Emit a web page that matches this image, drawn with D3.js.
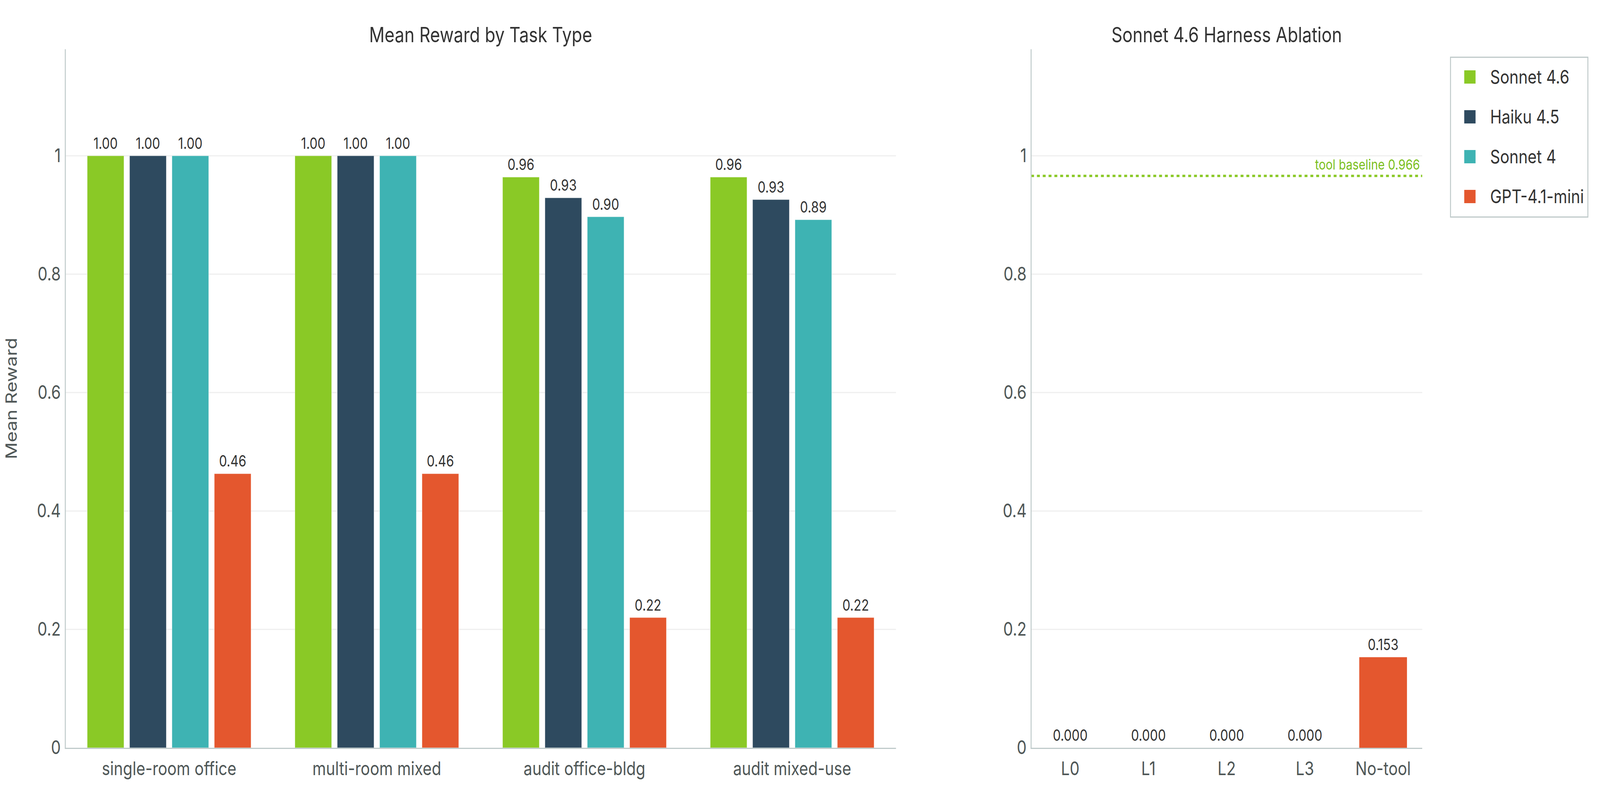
<!DOCTYPE html>
<html>
<head>
<meta charset="utf-8">
<script src="https://cdn.jsdelivr.net/npm/d3@7"></script>
<style>
  html, body { margin: 0; padding: 0; background: #fff; overflow: hidden; }
  svg { display: block; font-family: Inter, "Noto Sans", sans-serif; width: 100vw; height: 100vh; }
</style>
</head>
<body>
<svg id="chart" viewBox="0 0 4950 2040" preserveAspectRatio="none"></svg>
<script>
// ---- data ----
const taskTypes = ["single-room office", "multi-room mixed", "audit office-bldg", "audit mixed-use"];
const models = ["Sonnet 4.6", "Haiku 4.5", "Sonnet 4", "GPT-4.1-mini"];
const sonnet46 = [1.0, 1.0, 0.964, 0.964];
const haiku45 = [1.0, 1.0, 0.929, 0.926];
const sonnet4 = [1.0, 1.0, 0.897, 0.892];
const gpt41mini = [0.463, 0.463, 0.22, 0.22];
const ablationLevels = ["L0", "L1", "L2", "L3", "No-tool"];
const ablationValues = [0.0, 0.0, 0.0, 0.0, 0.153];
const toolBaseline = 0.966;
const yTicks = [0, 0.2, 0.4, 0.6, 0.8, 1];
const titles = ["Mean Reward by Task Type", "Sonnet 4.6 Harness Ablation"];
const yTitle = "Mean Reward";

// ---- style ----
const colors = ["#8ac926", "#2e4a5f", "#3eb3b3", "#e4572e"];
const ablationColors = ["#8ac926", "#8ac926", "#8ac926", "#8ac926", "#e4572e"];
const tickColor = "#4f5757";
const textColor = "#333333";
const gridColor = "#efefef";
const axisColor = "#bfcaca";

const svg = d3.select("#chart");
const seriesValues = [sonnet46, haiku45, sonnet4, gpt41mini];

const plotTop = 126, plotBottom = 1914;
const y = d3.scaleLinear().domain([0, 1.18]).range([plotBottom, plotTop]);

function drawPanel(g, x0, x1, title) {
  g.append("g").selectAll("line").data(yTicks.filter(d => d > 0)).join("line")
    .attr("x1", x0).attr("x2", x1)
    .attr("y1", d => y(d)).attr("y2", d => y(d))
    .attr("stroke", gridColor).attr("stroke-width", 3);
  g.append("text").attr("x", (x0 + x1) / 2).attr("y", 108)
    .attr("text-anchor", "middle").attr("font-size", 53).attr("fill", textColor)
    .text(title);
}

function drawAxes(g, x0, x1, xScale) {
  const ya = d3.axisLeft(y).tickValues(yTicks).tickFormat(d3.format("~g")).tickSize(0).tickPadding(14);
  const yg = g.append("g").attr("transform", `translate(${x0},0)`).call(ya);
  yg.select(".domain").remove();
  yg.selectAll("text").attr("font-size", 48).attr("fill", tickColor).attr("font-family", "Inter, sans-serif");
  g.append("line").attr("x1", x0).attr("x2", x0).attr("y1", plotTop).attr("y2", plotBottom + 1.5)
    .attr("stroke", axisColor).attr("stroke-width", 3);
  const xa = d3.axisBottom(xScale).tickSize(0).tickPadding(36);
  const xg = g.append("g").attr("transform", `translate(0,${plotBottom})`).call(xa);
  xg.select(".domain").remove();
  xg.selectAll("text").attr("font-size", 48).attr("fill", tickColor).attr("font-family", "Inter, sans-serif");
  g.append("line").attr("x1", x0 - 1.5).attr("x2", x1).attr("y1", plotBottom + 1.5).attr("y2", plotBottom + 1.5)
    .attr("stroke", axisColor).attr("stroke-width", 3);
}

// ---- left panel ----
const LX0 = 202, LX1 = 2772;
const gL = svg.append("g");
drawPanel(gL, LX0, LX1, titles[0]);
const xCat = d3.scaleBand().domain(taskTypes).range([LX0, LX1]).paddingInner(0).paddingOuter(0);
const groupW = xCat.bandwidth() * 0.816;
const xSer = d3.scaleBand().domain(models).range([0, groupW]).paddingInner(0.134).paddingOuter(0.067);

const barData = [];
taskTypes.forEach((t, i) => models.forEach((m, j) => barData.push({ t, m, j, v: seriesValues[j][i] })));

const gBars = gL.append("g");
gBars.selectAll("rect").data(barData).join("rect")
  .attr("x", d => xCat(d.t) + (xCat.bandwidth() - groupW) / 2 + xSer(d.m))
  .attr("width", xSer.bandwidth())
  .attr("y", d => y(d.v))
  .attr("height", d => y(0) - y(d.v))
  .attr("fill", d => colors[d.j])
  .attr("stroke", "rgba(255,255,255,0.45)").attr("stroke-width", 1.5);
gBars.selectAll("text").data(barData).join("text")
  .attr("x", d => xCat(d.t) + (xCat.bandwidth() - groupW) / 2 + xSer(d.m) + xSer.bandwidth() / 2)
  .attr("y", d => y(d.v) - 18)
  .attr("text-anchor", "middle").attr("font-size", 39).attr("fill", textColor)
  .text(d => d.v.toFixed(2));
drawAxes(gL, LX0, LX1, xCat);

svg.append("text").attr("transform", `translate(52,${(plotTop + plotBottom) / 2}) rotate(-90)`)
  .attr("text-anchor", "middle").attr("font-size", 48).attr("fill", tickColor).text(yTitle);

// ---- right panel ----
const RX0 = 3190, RX1 = 4400;
const gR = svg.append("g");
drawPanel(gR, RX0, RX1, titles[1]);
const xAbl = d3.scaleBand().domain(ablationLevels).range([RX0, RX1]).paddingInner(0.39).paddingOuter(0.195);
const ablData = ablationLevels.map((l, i) => ({ l, i, v: ablationValues[i] }));
gR.append("g").selectAll("rect").data(ablData).join("rect")
  .attr("x", d => xAbl(d.l)).attr("width", xAbl.bandwidth())
  .attr("y", d => y(d.v)).attr("height", d => y(0) - y(d.v))
  .attr("fill", d => ablationColors[d.i]);
gR.append("g").selectAll("text").data(ablData).join("text")
  .attr("x", d => xAbl(d.l) + xAbl.bandwidth() / 2)
  .attr("y", d => y(d.v) - 18)
  .attr("text-anchor", "middle").attr("font-size", 39).attr("fill", textColor)
  .text(d => d.v.toFixed(3));
gR.append("line").attr("x1", RX0).attr("x2", RX1)
  .attr("y1", y(toolBaseline)).attr("y2", y(toolBaseline))
  .attr("stroke", colors[0]).attr("stroke-width", 6).attr("stroke-dasharray", "9,9");
gR.append("text").attr("x", RX1 - 7).attr("y", y(toolBaseline) - 16)
  .attr("text-anchor", "end").attr("font-size", 36).attr("fill", "#7cc01f")
  .text("tool baseline " + toolBaseline.toFixed(3));
drawAxes(gR, RX0, RX1, xAbl);

// ---- legend ----
const lg = svg.append("g");
lg.append("rect").attr("x", 4487.5).attr("y", 146.5).attr("width", 425).attr("height", 409)
  .attr("fill", "#fff").attr("stroke", axisColor).attr("stroke-width", 3);
const li = lg.selectAll("g.item").data(models).join("g").attr("class", "item")
  .attr("transform", (d, i) => `translate(4530,${197 + i * 102})`);
li.append("rect").attr("x", 0).attr("y", -17).attr("width", 35).attr("height", 34)
  .attr("fill", (d, i) => colors[i]);
li.append("text").attr("x", 80).attr("y", 0).attr("dy", "0.35em")
  .attr("font-size", 48).attr("fill", textColor).text(d => d);
</script>
</body>
</html>
